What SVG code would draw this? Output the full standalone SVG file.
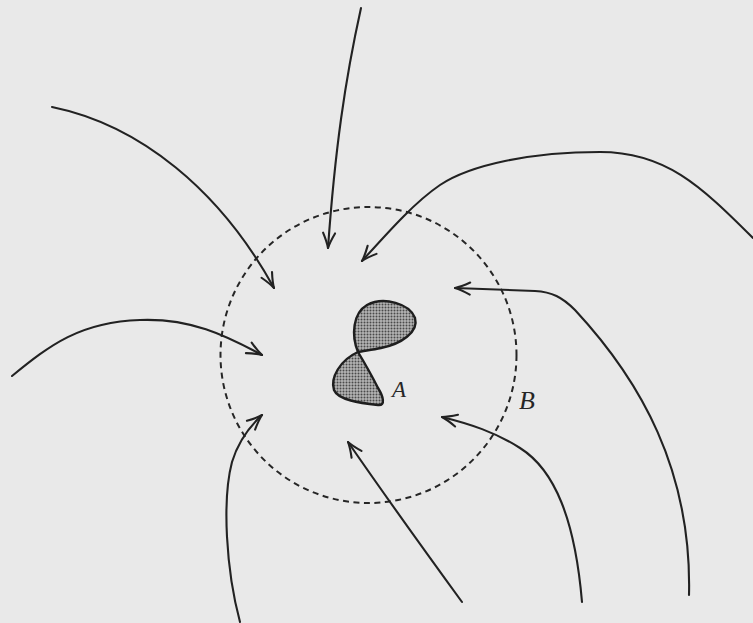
<svg xmlns="http://www.w3.org/2000/svg" width="753" height="623" viewBox="0 0 753 623">
  <style>
    .flow { fill: none; stroke: #222; stroke-width: 2.1; stroke-linecap: round; marker-end: url(#arr); }
    .bound { fill: none; stroke: #262626; stroke-width: 2; stroke-dasharray: 6 4.5; }
    .lobe { fill: url(#dots); stroke: #1e1e1e; stroke-width: 2.4; stroke-linejoin: round; }
    .lbl { font-family: "Liberation Serif", "Times New Roman", serif; font-style: italic; fill: #262626; }
  </style>
  <defs>
    <marker id="arr" viewBox="-16 -8 20 16" refX="0" refY="0" markerWidth="20" markerHeight="16" markerUnits="userSpaceOnUse" orient="auto" overflow="visible">
      <path d="M-15,-6 Q-6,-1.5 0,0 Q-6,1.5 -15,6" fill="none" stroke="#222" stroke-width="2.1" stroke-linecap="round" stroke-linejoin="round"/>
    </marker>
    <pattern id="dots" width="3" height="3" patternUnits="userSpaceOnUse">
      <rect width="3" height="3" fill="#b4b4b4"/>
      <circle cx="1.5" cy="1.5" r="1" fill="#4a4a4a"/>
    </pattern>
  </defs>
  <rect width="753" height="623" fill="#e9e9e9"/>

  <g id="B">
    <circle class="bound" cx="368.5" cy="355" r="148"/>
    <text class="lbl" x="519" y="409" font-size="26">B</text>
  </g>

  <g id="A">
    <path class="lobe" d="M358,352 C351,335 353,313 367,305 C384,296 410,304 415,318 C419,332 401,344 381,348 C371,350 362,351 358,352 Z"/>
    <path class="lobe" d="M358,352 C340,360 330,378 334,390 C338,400 360,403 378,405 C386,406 383,396 378,388 C372,376 364,362 358,352 Z"/>
    <text class="lbl" x="392" y="397" font-size="23">A</text>
  </g>

  <g id="connectors">
    <path class="flow" d="M361,8 C345,80 335,150 328,248"/>
    <path class="flow" d="M52,107 C140,125 220,190 274,288"/>
    <path class="flow" d="M12,376 C50,345 80,322 140,320 C190,318 225,335 262,355"/>
    <path class="flow" d="M240,622 C226,570 222,500 232,462 C238,442 248,428 262,415"/>
    <path class="flow" d="M462,602 Q395,510 348,442"/>
    <path class="flow" d="M582,602 C575,520 555,470 520,448 C495,432 470,424 442,417"/>
    <path class="flow" d="M689,595 C692,470 640,380 575,310 C562,297 552,292 535,291 L455,288"/>
    <path class="flow" d="M753,238 C700,185 665,152 600,152 C530,152 470,165 440,185 C415,202 390,230 362,261"/>
  </g>
</svg>
